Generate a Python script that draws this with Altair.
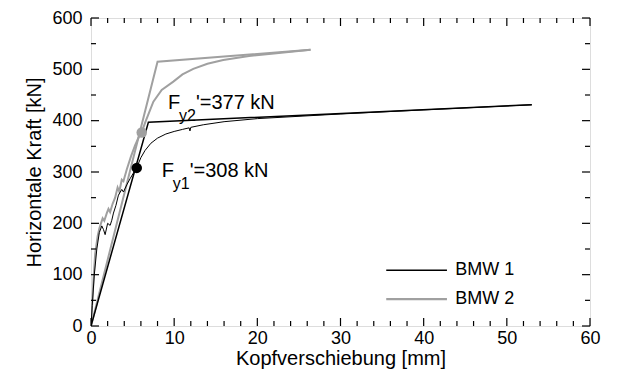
import altair as alt
import pandas as pd

# ---- data ----
# BMW 1: measured curve (black, thin)
bmw1_x = [0, 0.15, 0.4, 0.7, 1.0, 1.3, 1.5, 1.7, 2.0, 2.3, 2.5, 2.7, 3.0, 3.3, 3.7, 3.9,
          4.3, 4.7, 5.1, 5.5, 6.0, 6.5, 7.2, 8.0, 9.0, 10.0, 11.0, 11.8, 11.9, 12.0,
          13.5, 16, 20, 30, 40, 53]
bmw1_y = [0, 40, 100, 150, 182, 195, 188, 178, 200, 196, 206, 220, 235, 255, 266, 261,
          275, 287, 298, 309, 328, 342, 356, 366, 374, 379, 383, 386, 380, 387,
          392, 398, 404, 413, 421, 431]
# BMW 1: bilinear idealisation (black)
bmw1_bil_x = [0, 6.9, 53]
bmw1_bil_y = [0, 397, 431]
# BMW 2: measured curve (gray)
bmw2_x = [0, 0.1, 0.3, 0.5, 0.8, 1.0, 1.2, 1.4, 1.6, 1.9, 2.1, 2.3, 2.6, 2.9, 3.2, 3.4,
          3.7, 3.9, 4.3, 4.8, 5.3, 5.8, 6.1, 6.6, 7.5, 8.5, 9.9, 11, 12.3, 14, 15.9,
          19, 22, 26.4]
bmw2_y = [0, 30, 90, 140, 175, 190, 200, 210, 205, 220, 228, 222, 238, 250, 270, 262,
          285, 282, 305, 330, 352, 370, 378, 400, 437, 460, 476, 490, 501, 511, 518,
          526, 531, 538]
# BMW 2: bilinear idealisation (gray)
bmw2_bil_x = [0, 8.0, 26.4]
bmw2_bil_y = [0, 515, 538]
# yield points
yield_x = [5.5, 6.1]
yield_y = [308, 377]
yield_series = ["BMW 1", "BMW 2"]

# annotations (anchor = baseline-left of "F")
ann_x = [8.5, 9.25]
ann_y = [291, 423]
ann_sub = ["y1", "y2"]
ann_rest = ["'=308 kN", "'=377 kN"]

legend_labels = ["BMW 1", "BMW 2"]
legend_y = [108.7, 52.4]
legend_x0, legend_x1, legend_tx = 35.5, 42.8, 43.8

x_major = [0, 10, 20, 30, 40, 50, 60]
x_minor = [v for v in range(0, 61, 2) if v % 10 != 0]
y_major = [0, 100, 200, 300, 400, 500, 600]
y_minor = [50, 150, 250, 350, 450, 550]

BLACK = "#000000"
GRAY = "#a0a0a0"
FONT = "Liberation Sans"
W, H = 499, 308

xscale = alt.Scale(domain=[0, 60], nice=False, zero=False)
yscale = alt.Scale(domain=[0, 600], nice=False, zero=False)
xaxis = alt.Axis(values=x_major, ticks=False, tickSize=0, domain=False, grid=False,
                 labelFontSize=18, labelFont=FONT, labelColor="black", labelPadding=3,
                 labelFlush=False, title="Kopfverschiebung [mm]", titleFont=FONT,
                 titleFontSize=20, titleFontWeight="normal", titleColor="black",
                 titlePadding=1)
yaxis = alt.Axis(values=y_major, ticks=False, tickSize=0, domain=False, grid=False,
                 labelFontSize=18, labelFont=FONT, labelColor="black", labelPadding=9,
                 labelFlush=False, title="Horizontale Kraft [kN]", titleFont=FONT,
                 titleFontSize=20, titleFontWeight="normal", titleColor="black",
                 titlePadding=7)

X = alt.X("x:Q", scale=xscale, axis=xaxis)
Y = alt.Y("y:Q", scale=yscale, axis=yaxis)


def line(xs, ys, color, width):
    df = pd.DataFrame({"x": xs, "y": ys, "i": list(range(len(xs)))})
    return alt.Chart(df).mark_line(color=color, strokeWidth=width, clip=True).encode(
        x=X, y=Y, order=alt.Order("i:Q"))


layers = [
    line(bmw2_bil_x, bmw2_bil_y, GRAY, 2),
    line(bmw2_x, bmw2_y, GRAY, 2),
    line(bmw1_bil_x, bmw1_bil_y, BLACK, 1.5),
    line(bmw1_x, bmw1_y, BLACK, 1),
]

pts = pd.DataFrame({"x": yield_x, "y": yield_y, "s": yield_series})
layers.append(alt.Chart(pts).mark_point(filled=True, opacity=1, size=110).encode(
    x=X, y=Y,
    color=alt.Color("s:N", scale=alt.Scale(domain=yield_series, range=[BLACK, GRAY]),
                    legend=None)))

ann = pd.DataFrame({"x": ann_x, "y": ann_y, "sub": ann_sub, "rest": ann_rest})
layers.append(alt.Chart(ann).mark_text(text="F", align="left", baseline="alphabetic",
                                       fontSize=20, font=FONT, color="black").encode(x=X, y=Y))
layers.append(alt.Chart(ann).mark_text(align="left", baseline="alphabetic", dx=11, dy=12,
                                       fontSize=16, font=FONT, color="black").encode(
    x=X, y=Y, text="sub:N"))
layers.append(alt.Chart(ann).mark_text(align="left", baseline="alphabetic", dx=28,
                                       fontSize=20, font=FONT, color="black").encode(
    x=X, y=Y, text="rest:N"))

leg = pd.DataFrame({"x": [legend_x0] * 2, "x2": [legend_x1] * 2, "tx": [legend_tx] * 2,
                    "y": legend_y, "s": legend_labels})
legend_color = alt.Color("s:N", scale=alt.Scale(domain=legend_labels, range=[BLACK, GRAY]),
                         legend=None)
layers.append(alt.Chart(leg).mark_rule().encode(
    x=X, x2="x2:Q", y=Y, color=legend_color,
    strokeWidth=alt.StrokeWidth("s:N", scale=alt.Scale(domain=legend_labels, range=[1.5, 2.2]),
                                legend=None)))
layers.append(alt.Chart(leg).mark_text(align="left", baseline="middle", fontSize=18,
                                       font=FONT, color="black").encode(
    x=alt.X("tx:Q", scale=xscale, axis=xaxis), y=Y, text="s:N"))


def xticks(vals, length):
    df = pd.DataFrame({"x": vals})
    b = alt.Chart(df).mark_rule(color="black", strokeWidth=1.2).encode(
        x=X, y=alt.value(H), y2=alt.value(H - length))
    t = alt.Chart(df).mark_rule(color="black", strokeWidth=1.2).encode(
        x=X, y=alt.value(0), y2=alt.value(length))
    return [b, t]


def yticks(vals, length):
    df = pd.DataFrame({"y": vals})
    l = alt.Chart(df).mark_rule(color="black", strokeWidth=1.2).encode(
        y=Y, x=alt.value(0), x2=alt.value(length))
    r = alt.Chart(df).mark_rule(color="black", strokeWidth=1.2).encode(
        y=Y, x=alt.value(W), x2=alt.value(W - length))
    return [l, r]


layers += xticks(x_major, 8) + xticks(x_minor, 5) + yticks(y_major, 8) + yticks(y_minor, 5)

chart = alt.layer(*layers).properties(
    width=W, height=H,
    autosize=alt.AutoSizeParams(type="none"),
    padding={"left": 83, "top": 10, "right": 25, "bottom": 44},
).configure_view(stroke="black", strokeWidth=2).configure(background="white")

chart.save("out.html", embed_options={"renderer": "svg", "actions": False})
